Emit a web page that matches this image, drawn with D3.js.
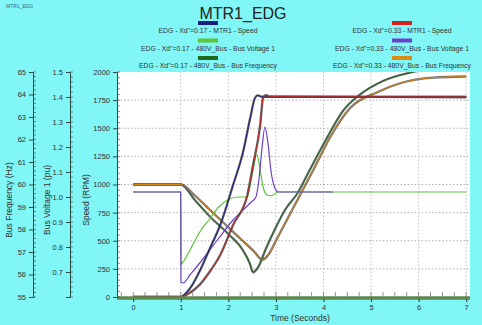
<!DOCTYPE html>
<html>
<head>
<meta charset="utf-8">
<script src="https://cdn.jsdelivr.net/npm/d3@7"></script>
<style>
  html, body { margin: 0; padding: 0; background: #80f6f6; }
  svg { display: block; font-family: "Liberation Sans", Arial, sans-serif; }
</style>
</head>
<body>
<div id="chart"></div>
<script>
// time / value pairs
const speed017Time = [0, 1.0, 1.1, 1.2, 1.41, 1.6, 1.83, 2.1, 2.31, 2.46, 2.56, 2.62, 2.7, 7.0];
const speed017 = [0, 0, 30, 80, 240, 420, 640, 996, 1289, 1591, 1769, 1792, 1780, 1778];
const speed033Time = [0, 1.0, 1.2, 1.4, 1.6, 1.83, 2.1, 2.4, 2.52, 2.67, 2.73, 2.79, 2.87, 7.0];
const speed033 = [0, 0, 40, 110, 220, 373, 640, 907, 1173, 1529, 1769, 1795, 1780, 1778];

const volt017Time = [0, 1.0, 1.005, 1.05, 1.2, 1.4, 1.6, 1.8, 2.0, 2.2, 2.4, 2.45, 2.52, 2.6, 2.66, 2.72, 2.8, 2.9, 3.05, 7.0];
const volt017 = [1.02, 1.02, 0.73, 0.74, 0.79, 0.86, 0.91, 0.96, 0.99, 1.0, 1.0, 1.04, 1.11, 1.17, 1.12, 1.05, 1.01, 1.005, 1.02, 1.02];
const volt033Time = [0, 1.0, 1.005, 1.05, 1.2, 1.4, 1.77, 2.1, 2.46, 2.58, 2.65, 2.71, 2.77, 2.83, 2.9, 2.97, 3.05, 4.2];
const volt033 = [1.02, 1.02, 0.66, 0.656, 0.69, 0.736, 0.828, 0.908, 0.976, 1.0, 1.08, 1.2, 1.28, 1.22, 1.1, 1.04, 1.02, 1.02];

const freq017Time = [0, 1.0, 1.3, 1.6, 2.0, 2.3, 2.45, 2.52, 2.62, 2.8, 3.0, 3.2, 3.45, 3.7, 4.08, 4.42, 4.77, 5.25, 5.88, 6.5, 7.0];
const freq017 = [60, 60, 59.3, 58.6, 57.8, 57.1, 56.5, 56.1, 56.3, 57.2, 58.1, 58.9, 59.6, 60.6, 62.1, 63.3, 64.0, 64.6, 65.0, 65.2, 65.3];
const freq033Time = [0, 1.0, 1.3, 1.6, 2.0, 2.3, 2.55, 2.71, 2.85, 3.0, 3.2, 3.5, 3.8, 4.14, 4.56, 5.13, 5.61, 6.31, 7.0];
const freq033 = [60, 60, 59.5, 58.9, 58.1, 57.5, 57.0, 56.65, 56.9, 57.5, 58.3, 59.5, 60.7, 62.1, 63.4, 64.1, 64.5, 64.75, 64.8];

const timeTicks = [0, 1, 2, 3, 4, 5, 6, 7];
const speedTicks = [0, 250, 500, 750, 1000, 1250, 1500, 1750, 2000];
const voltTicks = [0.7, 0.8, 0.9, 1.0, 1.1, 1.2, 1.3, 1.4, 1.5];
const freqTicks = [55, 56, 57, 58, 59, 60, 61, 62, 63, 64, 65];

const seriesNames = [
  'EDG - Xd"=0.17 - MTR1 - Speed',
  'EDG - Xd"=0.33 - MTR1 - Speed',
  'EDG - Xd"=0.17 - 480V_Bus - Bus Voltage 1',
  'EDG - Xd"=0.33 - 480V_Bus - Bus Voltage 1',
  'EDG - Xd"=0.17 - 480V_Bus - Bus Frequency',
  'EDG - Xd"=0.33 - 480V_Bus - Bus Frequency'
];
const seriesColors = ['#1a1f86', '#d42222', '#5cc436', '#6a40c8', '#1d6a1d', '#e08a12'];

const W = 482, H = 325;
const plot = { left: 117, right: 470, top: 72, bottom: 297 };

const svg = d3.select('#chart')
  .append('svg')
  .attr('width', W)
  .attr('height', H);

// scales
const x = d3.scaleLinear().domain([-0.34, 7.08]).range([plot.left, plot.right]);
const ySpeed = d3.scaleLinear().domain([0, 2000]).range([plot.bottom, plot.top]);
const yVolt = d3.scaleLinear().domain([0.6, 1.5]).range([plot.bottom, plot.top]);
const yFreq = d3.scaleLinear().domain([55, 65]).range([plot.bottom, plot.top]);

// small tag + title
svg.append('text').attr('x', 6).attr('y', 8)
  .attr('font-size', 5).attr('fill', '#3a6a8a').text('MTR1_EDG');
svg.append('text').attr('x', 243).attr('y', 19)
  .attr('text-anchor', 'middle').attr('font-size', 16).attr('fill', '#222')
  .text('MTR1_EDG');

// legend, two columns
const legendCols = [208, 402];
seriesNames.forEach((name, i) => {
  const cx = legendCols[i % 2];
  const row = Math.floor(i / 2);
  const sy = 21 + row * 17.5;
  svg.append('rect')
    .attr('x', cx - 10).attr('y', sy).attr('width', 20).attr('height', 4)
    .attr('fill', seriesColors[i]);
  svg.append('text')
    .attr('x', cx).attr('y', sy + 12)
    .attr('text-anchor', 'middle').attr('font-size', 6.8).attr('fill', '#333')
    .text(name);
});

// plot background
svg.append('rect')
  .attr('x', plot.left).attr('y', plot.top)
  .attr('width', plot.right - plot.left).attr('height', plot.bottom - plot.top)
  .attr('fill', '#ffffff');

// grid
svg.append('g')
  .selectAll('line')
  .data(speedTicks.filter(d => d > 0 && d < 2000))
  .enter().append('line')
  .attr('x1', plot.left).attr('x2', plot.right)
  .attr('y1', d => ySpeed(d)).attr('y2', d => ySpeed(d))
  .attr('stroke', '#9a9a9a').attr('stroke-width', 0.8).attr('stroke-dasharray', '1.5,2');
svg.append('g')
  .selectAll('line')
  .data(timeTicks.filter(d => d > 0))
  .enter().append('line')
  .attr('x1', d => x(d)).attr('x2', d => x(d))
  .attr('y1', plot.top).attr('y2', plot.bottom)
  .attr('stroke', '#b0b0b0').attr('stroke-width', 0.8).attr('stroke-dasharray', '1.5,2');

// curves
svg.append('clipPath').attr('id', 'clip')
  .append('rect')
  .attr('x', plot.left).attr('y', plot.top)
  .attr('width', plot.right - plot.left).attr('height', plot.bottom - plot.top);

const lines = svg.append('g').attr('clip-path', 'url(#clip)');

function drawSeries(times, values, yScale, color, outline) {
  const pts = times.map((t, i) => [t, values[i]]);
  const gen = d3.line()
    .x(d => x(d[0]))
    .y(d => yScale(d[1]))
    .curve(d3.curveMonotoneX);
  if (outline) {
    lines.append('path').datum(pts)
      .attr('d', gen).attr('fill', 'none')
      .attr('stroke', outline).attr('stroke-width', 2.3).attr('stroke-opacity', 0.85);
  }
  lines.append('path').datum(pts)
    .attr('d', gen).attr('fill', 'none')
    .attr('stroke', color).attr('stroke-width', outline ? 0.9 : 1.2);
}

drawSeries(freq017Time, freq017, yFreq, seriesColors[4], '#555');
drawSeries(freq033Time, freq033, yFreq, seriesColors[5], '#555');
drawSeries(volt017Time, volt017, yVolt, seriesColors[2], null);
drawSeries(volt033Time, volt033, yVolt, seriesColors[3], null);
drawSeries(speed017Time, speed017, ySpeed, seriesColors[0], '#444');
drawSeries(speed033Time, speed033, ySpeed, seriesColors[1], '#444');

// X axis (thick base line + ticks)
svg.append('line')
  .attr('x1', plot.left).attr('x2', plot.right)
  .attr('y1', plot.bottom + 1).attr('y2', plot.bottom + 1)
  .attr('stroke', '#5c8a4e').attr('stroke-width', 3.5);
const xMinor = d3.range(-0.25, 7.01, 0.25);
svg.append('g')
  .selectAll('line')
  .data(xMinor)
  .enter().append('line')
  .attr('x1', d => x(d)).attr('x2', d => x(d))
  .attr('y1', plot.bottom - 5).attr('y2', plot.bottom)
  .attr('stroke', '#777').attr('stroke-width', 0.8);
svg.append('g')
  .attr('transform', 'translate(0,' + (plot.bottom + 2) + ')')
  .call(d3.axisBottom(x).tickValues(timeTicks).tickSize(3).tickFormat(d3.format('d')))
  .call(g => g.select('.domain').remove())
  .call(g => g.selectAll('text').attr('font-size', 7.5).attr('fill', '#333'))
  .call(g => g.selectAll('line').attr('stroke', '#333'));
svg.append('text')
  .attr('x', 300).attr('y', 321)
  .attr('text-anchor', 'middle').attr('font-size', 8.5).attr('fill', '#333')
  .text('Time (Seconds)');

// left axes: speed, bus voltage, bus frequency
function leftAxis(scale, xPos, ticks, minorStep, fmt, title, titleX) {
  const g = svg.append('g').attr('transform', 'translate(' + xPos + ',0)');
  g.call(d3.axisLeft(scale).tickValues(ticks).tickSize(4).tickPadding(3).tickFormat(fmt))
    .call(a => a.select('.domain').attr('stroke', '#2c4a44'))
    .call(a => a.selectAll('line').attr('stroke', '#2c4a44'))
    .call(a => a.selectAll('text').attr('font-size', 7.5).attr('fill', '#333'));
  const [lo, hi] = scale.domain();
  g.append('g')
    .selectAll('line')
    .data(d3.range(lo, hi + 1e-9, minorStep))
    .enter().append('line')
    .attr('x1', 0).attr('x2', 3)
    .attr('y1', d => scale(d)).attr('y2', d => scale(d))
    .attr('stroke', '#2c4a44').attr('stroke-width', 0.6);
  svg.append('text')
    .attr('transform', 'translate(' + titleX + ',' + 200 + ')rotate(-90)')
    .attr('text-anchor', 'middle').attr('font-size', 8.5).attr('fill', '#333')
    .text(title);
}

leftAxis(ySpeed, plot.left, speedTicks, 50, d3.format('d'), 'Speed (RPM)', 89);
leftAxis(yVolt, 70, voltTicks, 0.02, d3.format('.1f'), 'Bus Voltage 1 (pu)', 50);
leftAxis(yFreq, 33, freqTicks, 0.2, d3.format('d'), 'Bus Frequency (Hz)', 12);
</script>
</body>
</html>
